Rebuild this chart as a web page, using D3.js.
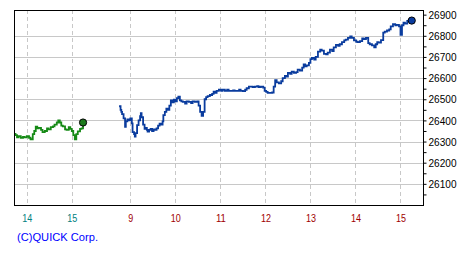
<!DOCTYPE html>
<html><head><meta charset="utf-8">
<script src="https://cdn.jsdelivr.net/npm/d3@7/dist/d3.min.js"></script>
<style>body{margin:0;background:#fff}svg{display:block}</style>
</head><body><svg id="c" width="475" height="260"></svg>
<script>
// ---- data ----
const prevTimes = ["13:43","13:45","13:47","13:49","13:52","13:55","13:57","14:00","14:03","14:05","14:08","14:10","14:12","14:14","14:16","14:19","14:21","14:24","14:27","14:29","14:32","14:35","14:37","14:40","14:42","14:44","14:46","14:48","14:51","14:53","14:56","14:58","15:00","15:02","15:04","15:06","15:08","15:11","15:13","15:15"];
const prevValues = [26336,26330,26320,26325,26318,26322,26320,26325,26318,26311,26335,26350,26370,26362,26365,26355,26345,26350,26362,26358,26368,26372,26380,26390,26400,26390,26375,26372,26358,26355,26368,26360,26350,26330,26310,26335,26348,26360,26362,26390];
const todayTimes = ["8:45","8:47","8:48","8:49","8:51","8:53","8:54","8:56","8:58","9:00","9:02","9:03","9:05","9:06","9:07","9:09","9:11","9:13","9:14","9:15","9:17","9:19","9:21","9:22","9:23","9:25","9:27","9:29","9:31","9:33","9:35","9:37","9:39","9:41","9:43","9:44","9:46","9:48","9:50","9:52","9:54","9:56","9:58","10:00","10:02","10:04","10:06","10:08","10:10","10:13","10:15","10:18","10:21","10:23","10:26","10:29","10:31","10:33","10:35","10:37","10:39","10:41","10:43","10:46","10:49","10:51","10:53","10:55","10:58","11:01","11:03","11:06","11:09","11:11","11:14","11:17","11:19","11:22","11:25","11:27","11:30","11:33","11:35","11:38","11:41","11:43","11:46","11:49","11:51","11:54","11:57","11:59","12:01","12:03","12:06","12:09","12:11","12:13","12:15","12:18","12:21","12:23","12:26","12:28","12:30","12:33","12:35","12:38","12:41","12:43","12:46","12:49","12:51","12:53","12:55","12:58","13:00","13:02","13:05","13:07","13:10","13:13","13:15","13:18","13:21","13:23","13:26","13:29","13:31","13:34","13:37","13:39","13:42","13:45","13:47","13:50","13:53","13:55","13:58","14:01","14:03","14:06","14:09","14:11","14:14","14:17","14:19","14:22","14:25","14:27","14:29","14:31","14:34","14:37","14:39","14:42","14:45","14:47","14:50","14:53","14:55","14:58","15:00","15:02","15:04","15:06","15:09","15:11","15:15"];
const todayValues = [26467,26450,26440,26430,26410,26370,26395,26405,26400,26410,26386,26345,26335,26323,26340,26378,26400,26420,26434,26415,26380,26360,26365,26355,26347,26355,26360,26350,26358,26355,26362,26375,26385,26380,26395,26425,26440,26455,26450,26470,26495,26485,26498,26490,26505,26512,26495,26490,26488,26480,26490,26488,26482,26490,26488,26490,26470,26440,26421,26440,26500,26510,26515,26520,26525,26536,26530,26540,26545,26540,26545,26540,26545,26540,26540,26542,26540,26540,26545,26540,26538,26545,26552,26560,26560,26558,26560,26562,26558,26560,26555,26540,26535,26530,26530,26532,26560,26590,26580,26575,26585,26600,26610,26607,26625,26620,26630,26625,26628,26640,26635,26650,26665,26655,26660,26672,26690,26695,26688,26700,26725,26735,26730,26715,26712,26720,26735,26728,26745,26757,26752,26760,26770,26778,26782,26790,26797,26790,26778,26772,26770,26775,26788,26785,26790,26765,26760,26755,26745,26760,26770,26768,26780,26815,26820,26825,26830,26845,26855,26850,26852,26845,26805,26850,26862,26858,26870,26875,26872];
const yTicks = [26100,26200,26300,26400,26500,26600,26700,26800,26900];
const yMinorTicks = [26050,26100,26150,26200,26250,26300,26350,26400,26450,26500,26550,26600,26650,26700,26750,26800,26850,26900];
const yDomain = [26000, 26922];
const prevHours = ["14:00","15:00"];
const todayHours = ["9:00","10:00","11:00","12:00","13:00","14:00","15:00"];
const windowStart = "13:43";   // previous day, left edge
const windowEnd = "15:30";     // today, right edge
const prevClose = "15:15", todayOpen = "8:45", sessionGapMin = 48;
const credit = "(C)QUICK Corp.";

// ---- helpers ----
const mins = s => { const [h,m] = s.split(":").map(Number); return h*60+m; };
const uToday = s => mins(s) - mins(todayOpen);
const uPrev = s => mins(s) - mins(prevClose) - sessionGapMin;

const L = 14, R = 423, T = 10, B = 205;
const x = d3.scaleLinear().domain([uPrev(windowStart), uToday(windowEnd)]).range([L, R]);
const y = d3.scaleLinear().domain(yDomain).range([B, T]);
const px = v => Math.round(v) + 0.5;

const svg = d3.select("#c");
svg.append("rect").attr("width",475).attr("height",260).attr("fill","#fff");

// horizontal grid
svg.append("g").selectAll("line").data(yTicks.filter(v => y(v) > T + 8)).join("line")
  .attr("x1", L).attr("x2", R).attr("y1", d => px(y(d))).attr("y2", d => px(y(d)))
  .attr("stroke", "#c8c8c8").attr("stroke-width", 1);

// vertical dashed grid
const vTicks = prevHours.map(uPrev).concat(todayHours.map(uToday));
svg.append("g").selectAll("line").data(vTicks).join("line")
  .attr("x1", d => px(x(d))).attr("x2", d => px(x(d))).attr("y1", T).attr("y2", B)
  .attr("stroke", "#c8c8c8").attr("stroke-width", 1).attr("stroke-dasharray", "4,3");

// lines
const line = d3.line().x(d => x(d[0])).y(d => y(d[1])).curve(d3.curveStepAfter);
const prevData = prevTimes.map((t,i) => [uPrev(t), prevValues[i]]);
const todayData = todayTimes.map((t,i) => [uToday(t), todayValues[i]]);
svg.append("path").datum(prevData).attr("d", line).attr("fill","none")
  .attr("stroke","#168a16").attr("stroke-width",1.8);
svg.append("path").datum(todayData).attr("d", line).attr("fill","none")
  .attr("stroke","#0a3c9e").attr("stroke-width",1.8);

// end dots
const pl = prevData[prevData.length-1], tl = todayData[todayData.length-1];
svg.append("circle").attr("cx", x(pl[0])).attr("cy", y(pl[1])).attr("r", 3.6)
  .attr("fill","#1c7a1c").attr("stroke","#000").attr("stroke-width",1);
svg.append("circle").attr("cx", x(tl[0])).attr("cy", y(tl[1])).attr("r", 3.6)
  .attr("fill","#0a3c9e").attr("stroke","#000").attr("stroke-width",1);

// frame
svg.append("rect").attr("x", L+0.5).attr("y", T+0.5).attr("width", R-L).attr("height", B-T)
  .attr("fill","none").attr("stroke","#000").attr("stroke-width",1);

// right axis
const ax = svg.append("g").attr("transform", `translate(${R+0.5},0)`)
  .call(d3.axisRight(y).tickValues(yMinorTicks).tickSize(3).tickPadding(2)
    .tickFormat(d => yTicks.includes(d) ? String(d) : ""));
ax.select(".domain").remove();
ax.selectAll(".tick line").attr("stroke","#000");
ax.selectAll(".tick text").attr("font-family","'Liberation Sans', Arial, sans-serif")
  .attr("font-size", 11.5).attr("fill","#000")
  .each(function(){ const t = this.textContent; if (t) d3.select(this).attr("textLength", t.length*5.6).attr("lengthAdjust","spacingAndGlyphs"); });

// x labels
const lab = svg.append("g").attr("font-family","'Liberation Sans', Arial, sans-serif").attr("font-size", 11.5);
lab.selectAll("text.p").data(prevHours).join("text").attr("class","p")
  .attr("x", d => x(uPrev(d)) + 0.5).attr("y", 222).attr("text-anchor","middle").attr("fill","#008080")
  .attr("textLength", d => String(mins(d)/60).length*5).attr("lengthAdjust","spacingAndGlyphs")
  .text(d => String(mins(d)/60));
lab.selectAll("text.t").data(todayHours).join("text").attr("class","t")
  .attr("x", d => x(uToday(d)) + 0.5).attr("y", 222).attr("text-anchor","middle").attr("fill","#a00000")
  .attr("textLength", d => String(mins(d)/60).length*5).attr("lengthAdjust","spacingAndGlyphs")
  .text(d => String(mins(d)/60));

svg.append("text").attr("x", 17).attr("y", 241).attr("fill","#0000ff")
  .attr("font-family","'Liberation Sans', Arial, sans-serif").attr("font-size", 11.5)
  .attr("textLength", 81).attr("lengthAdjust","spacingAndGlyphs").text(credit);
</script></body></html>
